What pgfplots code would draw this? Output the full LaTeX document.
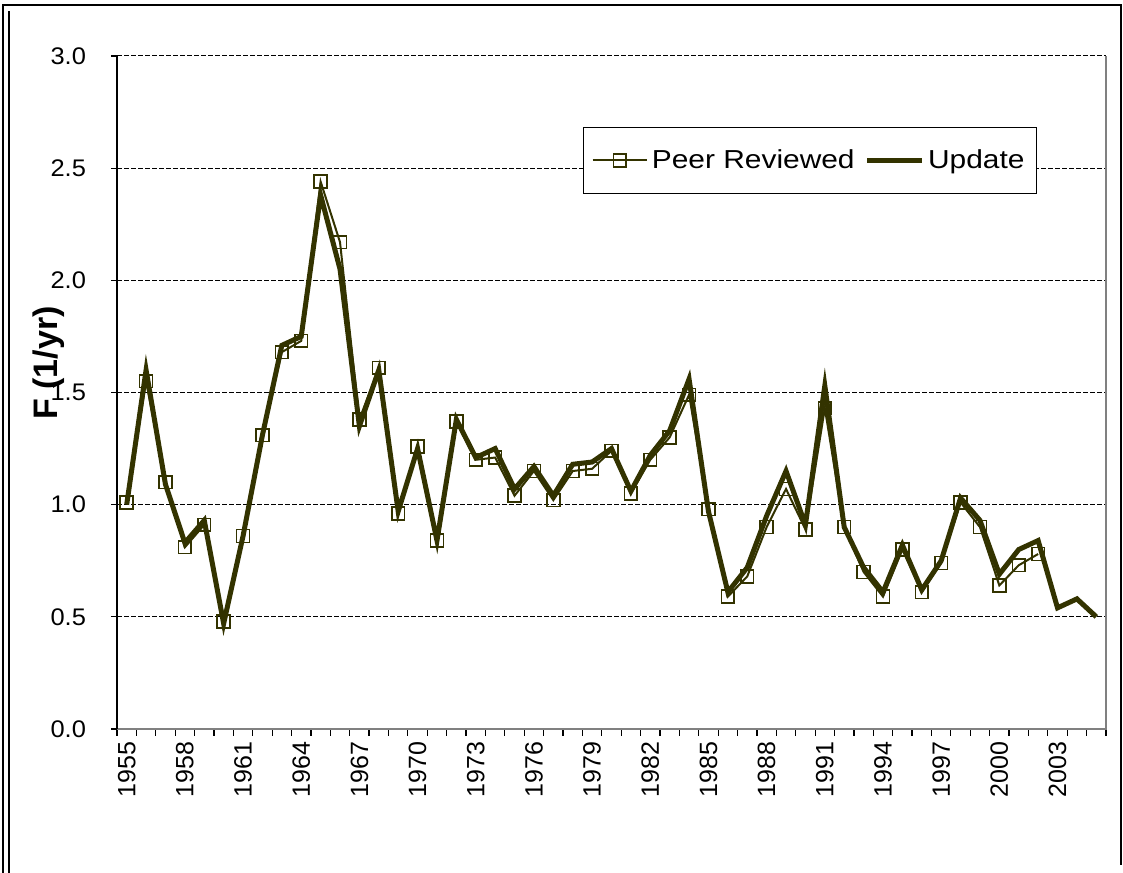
\documentclass[border=0pt]{standalone}
\usepackage{fontspec}
\setmainfont{Liberation Sans}
\newfontfamily\widesans[FakeStretch=1.06]{Liberation Sans}
\newfontfamily\legendsans[FakeStretch=1.15]{Liberation Sans}
\usepackage{pgfplots}
\pgfplotsset{compat=1.18}
\definecolor{darkolive}{RGB}{51,51,0}

\pgfplotstableread{
year F
1955 1.01
1956 1.55
1957 1.10
1958 0.81
1959 0.91
1960 0.48
1961 0.86
1962 1.31
1963 1.68
1964 1.73
1965 2.44
1966 2.17
1967 1.38
1968 1.61
1969 0.96
1970 1.26
1971 0.84
1972 1.37
1973 1.20
1974 1.21
1975 1.04
1976 1.15
1977 1.02
1978 1.15
1979 1.16
1980 1.24
1981 1.05
1982 1.20
1983 1.30
1984 1.49
1985 0.98
1986 0.59
1987 0.68
1988 0.90
1989 1.07
1990 0.89
1991 1.43
1992 0.90
1993 0.70
1994 0.59
1995 0.80
1996 0.61
1997 0.74
1998 1.01
1999 0.90
2000 0.64
2001 0.73
2002 0.78
}\peer

\pgfplotstableread{
year F
1955 1.00
1956 1.60
1957 1.09
1958 0.83
1959 0.93
1960 0.47
1961 0.86
1962 1.31
1963 1.71
1964 1.75
1965 2.38
1966 2.05
1967 1.35
1968 1.60
1969 0.97
1970 1.25
1971 0.84
1972 1.38
1973 1.21
1974 1.25
1975 1.07
1976 1.17
1977 1.04
1978 1.18
1979 1.19
1980 1.25
1981 1.06
1982 1.22
1983 1.33
1984 1.56
1985 0.97
1986 0.61
1987 0.72
1988 0.95
1989 1.15
1990 0.91
1991 1.53
1992 0.90
1993 0.72
1994 0.61
1995 0.82
1996 0.62
1997 0.75
1998 1.03
1999 0.93
2000 0.69
2001 0.80
2002 0.84
2003 0.54
2004 0.58
2005 0.50
}\update

\begin{document}
\begin{tikzpicture}
\path[use as bounding box] (0,0) rectangle (561.5bp,436.5bp);
% frame of the chart object
\draw[line width=1bp] (1.5bp,0) -- (1.5bp,434bp) -- (560.5bp,434bp) -- (560.5bp,4bp);
\draw[line width=1bp] (4.5bp,0) -- (4.5bp,431bp);

\begin{axis}[
    at={(58.5bp,72bp)}, anchor=south west,
    width=494.5bp, height=336.5bp, scale only axis,
    xmin=1954.5, xmax=2005.5, ymin=0, ymax=3,
    clip=false,
    axis line style={draw=none},
    xtick={1955,1958,...,2003},
    minor xtick={1954.5,1955.5,...,2005.5},
    major x tick style={draw=none},
    minor x tick style={black, line width=0.6bp},
    minor tick length=3.5bp,
    ytick={0,0.5,...,3},
    major tick length=3bp,
    y tick style={black, line width=0.6bp},
    tick align=outside,
    xtick pos=bottom, ytick pos=left,
    ymajorgrids,
    major y grid style={black, line width=0.5bp, dash pattern=on 2.5bp off 1bp},
    xticklabel={\pgfmathprintnumber[1000 sep={}]{\tick}},
    /pgf/number format/assume math mode=true,
    xticklabel style={rotate=90, anchor=east, font=\fontsize{12.5bp}{14bp}\selectfont},
    yticklabel style={xshift=-9bp, font=\widesans\fontsize{12bp}{14bp}\selectfont,
        /pgf/number format/.cd, fixed, fixed zerofill, precision=1},
    legend style={at={(axis description cs:0.7007,0.845)}, anchor=center,
        draw=black, line width=0.6bp, fill=white,
        font=\legendsans\fontsize{13bp}{15bp}\selectfont, inner xsep=4bp, inner ysep=9bp,
        /tikz/every even column/.append style={column sep=3bp}},
    legend columns=2,
    legend image code/.code={\draw[mark repeat=2,mark phase=2,#1]
        plot coordinates {(0cm,0cm) (0.48cm,0cm) (0.96cm,0cm)};},
]
\addplot[darkolive, line width=1bp, mark=square, mark size=3.2bp,
    mark options={line width=0.8bp}] table[x=year, y=F] {\peer};
\addlegendentry{Peer Reviewed}
\addplot[darkolive, line width=2.5bp, no marks] table[x=year, y=F] {\update};
\addlegendentry{Update}

\draw[gray, line width=0.8bp] (rel axis cs:0,0) -- (rel axis cs:1,0) -- (rel axis cs:1,1);
\draw[black, line width=0.8bp] (rel axis cs:0,0) -- (rel axis cs:0,1);
\node[rotate=90, anchor=base, inner sep=0pt, font=\bfseries\fontsize{17bp}{19bp}\selectfont]
    at (axis description cs:-0.0597,0.544) {F (1/yr)};
\end{axis}
\end{tikzpicture}
\end{document}
